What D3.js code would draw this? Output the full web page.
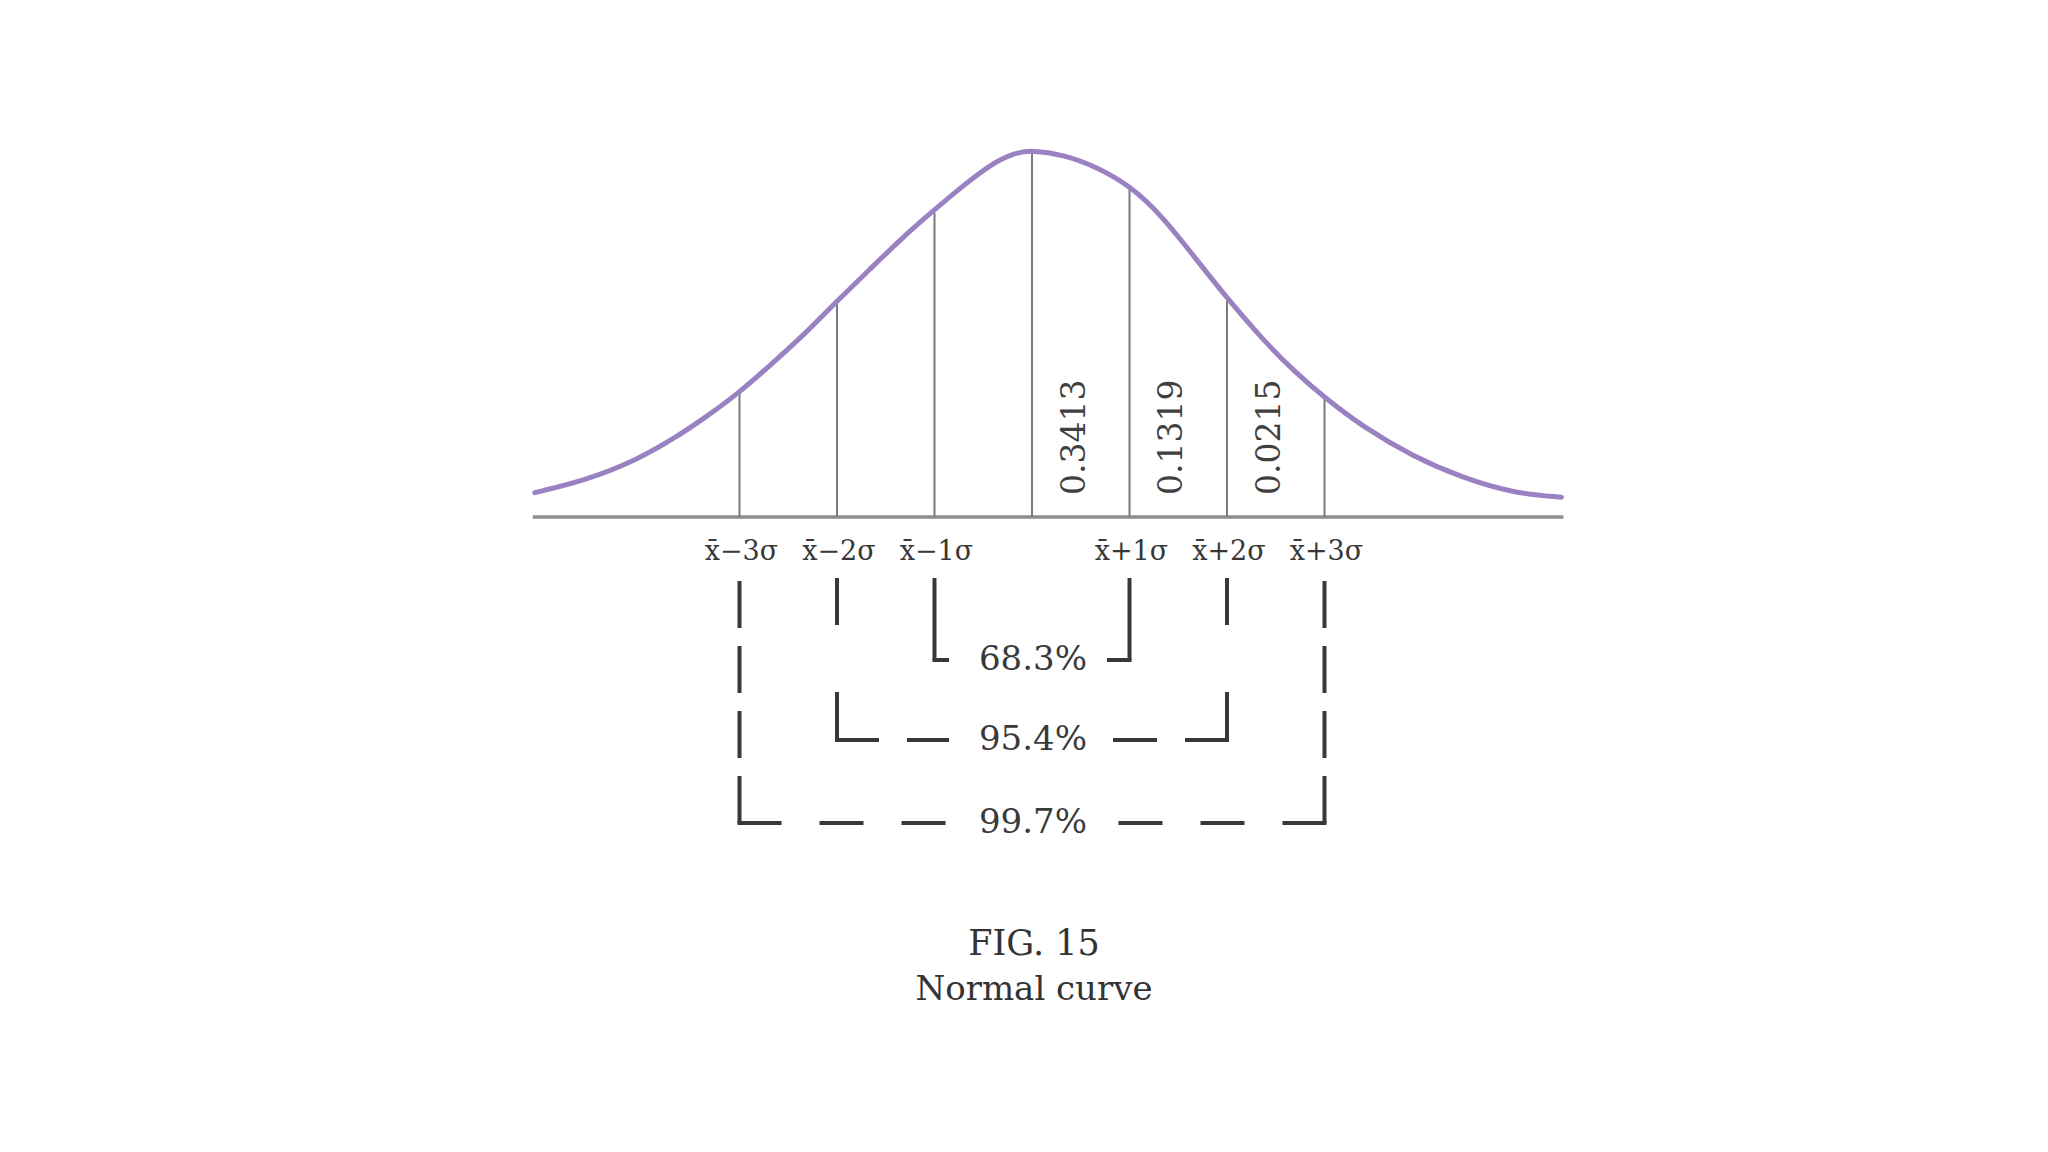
<!DOCTYPE html>
<html>
<head>
<meta charset="utf-8">
<script src="https://cdn.jsdelivr.net/npm/d3@7"></script>
<style>
  html, body { margin: 0; padding: 0; background: #ffffff; }
  svg { display: block; }
</style>
</head>
<body>
<svg id="chart" width="2048" height="1152"></svg>
<script>
// ---- data ----
// curve: x in sigma units from the mean, y as density height
const curveX = [-5.10, -4.57, -4.05, -3.64, -3.34, -3.01, -2.66, -2.35, -2.02, -1.66, -1.32, -1.03, -0.71, -0.40, -0.19, 0.00,
                0.32, 0.66, 1.02, 1.34, 1.69, 2.00, 2.37, 2.71, 2.99, 3.39, 3.91, 4.42, 4.93, 5.43];
const curveY = [0.0266, 0.0404, 0.0623, 0.0878, 0.1096, 0.1352, 0.1683, 0.1980, 0.2339, 0.2710, 0.3063, 0.3330, 0.3620, 0.3870, 0.3975, 0.4010,
                0.3960, 0.3828, 0.3610, 0.3282, 0.2809, 0.2393, 0.1934, 0.1570, 0.1315, 0.0987, 0.0659, 0.0426, 0.0262, 0.0215];

const sigmaTicks   = [-3, -2, -1, 0, 1, 2, 3];
const sigmaHeights = [0.1352, 0.2339, 0.3325, 0.4000, 0.3605, 0.2393, 0.1315];
const sigmaLabels  = ["x\u0304\u22123\u03c3", "x\u0304\u22122\u03c3", "x\u0304\u22121\u03c3", "",
                      "x\u0304+1\u03c3", "x\u0304+2\u03c3", "x\u0304+3\u03c3"];

const areaLabels = ["0.3413", "0.1319", "0.0215"];
const areaFrom   = [0, 1, 2];

const rangeSpans  = [1, 2, 3];
const rangeLabels = ["68.3%", "95.4%", "99.7%"];

const captionLines = ["FIG. 15", "Normal curve"];

// ---- layout ----
const svg = d3.select("#chart");
const cx = 1032, sigmaPx = 97.5;
const x = d3.scaleLinear().domain([-5, 5]).range([cx - 5 * sigmaPx, cx + 5 * sigmaPx]);
const y = d3.scaleLinear().domain([0, 0.4]).range([517, 151]);

const serif = "'DejaVu Serif', 'Liberation Serif', serif";

// baseline
svg.append("line")
  .attr("x1", x(-5.12)).attr("x2", x(5.45))
  .attr("y1", y(0)).attr("y2", y(0))
  .attr("stroke", "#8e8e8e").attr("stroke-width", 3.5);

// sigma verticals
svg.append("g").selectAll("line")
  .data(sigmaTicks)
  .join("line")
  .attr("x1", d => x(d)).attr("x2", d => x(d))
  .attr("y1", y(0))
  .attr("y2", (d, i) => y(sigmaHeights[i]))
  .attr("stroke", "#7a7a7a").attr("stroke-width", 2);

// curve
const pts = curveX.map((v, i) => [v, curveY[i]]);
svg.append("path")
  .datum(pts)
  .attr("d", d3.line().x(d => x(d[0])).y(d => y(d[1])).curve(d3.curveBasis))
  .attr("fill", "none")
  .attr("stroke", "#9a82c2")
  .attr("stroke-width", 5)
  .attr("stroke-linecap", "round");

// rotated area labels
svg.append("g").selectAll("text")
  .data(areaLabels)
  .join("text")
  .attr("transform", (d, i) => `translate(${x(areaFrom[i] + 0.5) - 8},${y(0) - 22}) rotate(-90)`)
  .attr("dy", "0.36em")
  .attr("text-anchor", "start")
  .attr("font-family", serif)
  .attr("font-size", 33)
  .attr("fill", "#404040")
  .text(d => d);

// sigma labels under axis
svg.append("g").selectAll("text")
  .data(sigmaLabels)
  .join("text")
  .attr("x", (d, i) => x(sigmaTicks[i]) + 2)
  .attr("y", 560)
  .attr("text-anchor", "middle")
  .attr("font-family", serif)
  .attr("font-size", 27)
  .attr("fill", "#383838")
  .text(d => d);

// brackets
const topY = 578;
const bottomYs = [660, 740, 823];
const vDash = [null, "48 67", "47 18"];
const hDash = [null, "44 28", "44 38"];
const gapL = cx - 83, gapR = cx + 75;
const bg = svg.append("g")
  .attr("stroke", "#383838").attr("stroke-width", 4).attr("fill", "none");

rangeSpans.forEach((k, i) => {
  const xl = x(-k), xr = x(k), yb = bottomYs[i];
  const segs = [
    [[xl, yb], [xl, topY], vDash[i]],
    [[xr, yb], [xr, topY], vDash[i]],
    [[xl - 2, yb], [gapL, yb], hDash[i]],
    [[xr + 2, yb], [gapR, yb], hDash[i]]
  ];
  segs.forEach(s => {
    const p = bg.append("path")
      .attr("d", d3.line()([s[0], s[1]]));
    if (s[2]) p.attr("stroke-dasharray", s[2]);
  });
});

svg.append("g").selectAll("text")
  .data(rangeLabels)
  .join("text")
  .attr("x", cx + 1)
  .attr("y", (d, i) => bottomYs[i] - 2)
  .attr("dy", "0.36em")
  .attr("text-anchor", "middle")
  .attr("font-family", serif)
  .attr("font-size", 34)
  .attr("fill", "#3a3a3a")
  .text(d => d);

// caption
svg.append("g").selectAll("text")
  .data(captionLines)
  .join("text")
  .attr("x", cx + 2)
  .attr("y", (d, i) => [955, 1000][i])
  .attr("text-anchor", "middle")
  .attr("font-family", serif)
  .attr("font-size", (d, i) => [35, 34][i])
  .attr("fill", "#333333")
  .text(d => d);
</script>
</body>
</html>
